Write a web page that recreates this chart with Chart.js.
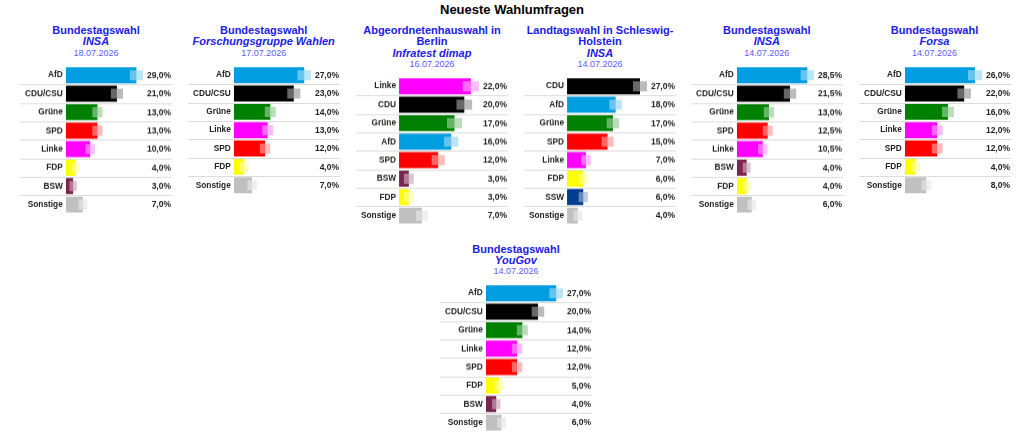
<!DOCTYPE html>
<html>
<head>
<meta charset="utf-8">
<script src="https://cdn.jsdelivr.net/npm/chart.js@4/dist/chart.umd.min.js"></script>
<style>
  body { margin: 0; background: #fff; font-family: "Liberation Sans", Arial, sans-serif; }
  #main { position: absolute; left: 0; top: 2px; width: 1024px; text-align: center; font-size: 13px; font-weight: bold; color: #000; line-height: 16px; }
  .panel { position: absolute; width: 152px; }
  .head { text-align: center; color: #2020e8; }
  .head .t { font-size: 11px; font-weight: bold; line-height: 11.4px; }
  .head .a { font-size: 11px; font-weight: bold; font-style: italic; line-height: 11.4px; }
  .head .d { font-size: 9px; color: #5b5bff; line-height: 10.6px; }
  .box { position: relative; width: 152px; margin-top: 7.3px; }
</style>
</head>
<body>
<div id="main">Neueste Wahlumfragen</div>
<div id="panels"></div>
<script>
// Umfragen (Werte in %), Fehlerbereich je Partei
var p1Title = ['Bundestagswahl'], p1Inst = 'INSA', p1Date = '18.07.2026';
var p1Parties = ['AfD', 'CDU/CSU', 'Grüne', 'SPD', 'Linke', 'FDP', 'BSW', 'Sonstige'];
var p1Values = [29, 21, 13, 13, 10, 4, 3, 7];
var p1Margins = [2.7, 2.5, 2.1, 2.1, 1.9, 1.6, 1.5, 1.8];

var p2Title = ['Bundestagswahl'], p2Inst = 'Forschungsgruppe Wahlen', p2Date = '17.07.2026';
var p2Parties = ['AfD', 'CDU/CSU', 'Grüne', 'Linke', 'SPD', 'FDP', 'Sonstige'];
var p2Values = [27, 23, 14, 13, 12, 4, 7];
var p2Margins = [2.6, 2.5, 2.1, 2.1, 2.0, 1.6, 1.8];

var p3Title = ['Abgeordnetenhauswahl in', 'Berlin'], p3Inst = 'Infratest dimap', p3Date = '16.07.2026';
var p3Parties = ['Linke', 'CDU', 'Grüne', 'AfD', 'SPD', 'BSW', 'FDP', 'Sonstige'];
var p3Values = [22, 20, 17, 16, 12, 3, 3, 7];
var p3Margins = [2.5, 2.4, 2.3, 2.2, 2.0, 1.5, 1.5, 1.8];

var p4Title = ['Landtagswahl in Schleswig-', 'Holstein'], p4Inst = 'INSA', p4Date = '14.07.2026';
var p4Parties = ['CDU', 'AfD', 'Grüne', 'SPD', 'Linke', 'FDP', 'SSW', 'Sonstige'];
var p4Values = [27, 18, 17, 15, 7, 6, 6, 4];
var p4Margins = [2.6, 2.3, 2.3, 2.2, 1.8, 1.7, 1.7, 1.6];

var p5Title = ['Bundestagswahl'], p5Inst = 'INSA', p5Date = '14.07.2026';
var p5Parties = ['AfD', 'CDU/CSU', 'Grüne', 'SPD', 'Linke', 'BSW', 'FDP', 'Sonstige'];
var p5Values = [28.5, 21.5, 13, 12.5, 10.5, 4, 4, 6];
var p5Margins = [2.7, 2.5, 2.1, 2.0, 1.9, 1.6, 1.6, 1.7];

var p6Title = ['Bundestagswahl'], p6Inst = 'Forsa', p6Date = '14.07.2026';
var p6Parties = ['AfD', 'CDU/CSU', 'Grüne', 'Linke', 'SPD', 'FDP', 'Sonstige'];
var p6Values = [26, 22, 16, 12, 12, 4, 8];
var p6Margins = [2.6, 2.5, 2.2, 2.0, 2.0, 1.6, 1.8];

var p7Title = ['Bundestagswahl'], p7Inst = 'YouGov', p7Date = '14.07.2026';
var p7Parties = ['AfD', 'CDU/CSU', 'Grüne', 'Linke', 'SPD', 'FDP', 'BSW', 'Sonstige'];
var p7Values = [27, 20, 14, 12, 12, 5, 4, 6];
var p7Margins = [2.6, 2.4, 2.1, 2.0, 2.0, 1.6, 1.6, 1.7];

var partyColors = {
    'AfD': '#009ee0',
    'CDU/CSU': '#000000',
    'CDU': '#000000',
    'Grüne': '#008000',
    'SPD': '#ff0000',
    'Linke': '#ff00ff',
    'FDP': '#ffff00',
    'BSW': '#7b2450',
    'SSW': '#003c8f',
    'Sonstige': '#c0c0c0'
};

var FONT = '"Liberation Sans", Arial, sans-serif';
var ROW_H = 18.35;

// heller Farbton fuer den Fehlerbereich
function lighten(hex) {
    var r = parseInt(hex.substr(1, 2), 16), g = parseInt(hex.substr(3, 2), 16), b = parseInt(hex.substr(5, 2), 16);
    r = Math.round(r + (255 - r) * 0.6);
    g = Math.round(g + (255 - g) * 0.6);
    b = Math.round(b + (255 - b) * 0.6);
    return 'rgba(' + r + ',' + g + ',' + b + ',0.67)';
}

var rowLines = {
    id: 'rowLines',
    beforeDatasetsDraw: function(chart) {
        var ctx = chart.ctx, y = chart.scales.y;
        var n = chart.data.labels.length;
        ctx.save();
        ctx.strokeStyle = '#dcdcdc';
        ctx.lineWidth = 1;
        for (var i = 1; i < n; i++) {
            var py = Math.round((y.getPixelForValue(i - 1) + y.getPixelForValue(i)) / 2) + 0.5;
            ctx.beginPath();
            ctx.moveTo(0, py);
            ctx.lineTo(chart.width, py);
            ctx.stroke();
        }
        ctx.restore();
    }
};

var valueLabels = {
    id: 'valueLabels',
    afterDatasetsDraw: function(chart) {
        var ctx = chart.ctx, y = chart.scales.y;
        var vals = chart.data.datasets[1].data;
        ctx.save();
        ctx.font = 'bold 8.5px ' + FONT;
        ctx.fillStyle = '#222';
        ctx.textAlign = 'right';
        ctx.textBaseline = 'middle';
        for (var i = 0; i < vals.length; i++) {
            ctx.fillText(vals[i].toFixed(1).replace('.', ',') + '%', chart.width - 1, y.getPixelForValue(i) + 0.5);
        }
        ctx.restore();
    }
};

function makePanel(left, top, title, inst, date, parties, values, margins) {
    var panel = document.createElement('div');
    panel.className = 'panel';
    panel.style.left = left + 'px';
    panel.style.top = top + 'px';
    var head = '<div class="head">';
    title.forEach(function(t) { head += '<div class="t">' + t + '</div>'; });
    head += '<div class="a">' + inst + '</div><div class="d">' + date + '</div></div>';
    panel.innerHTML = head + '<div class="box" style="height:' + (parties.length * ROW_H) + 'px"><canvas></canvas></div>';
    document.getElementById('panels').appendChild(panel);

    var colors = parties.map(function(p) { return partyColors[p]; });
    var xMax = Math.max.apply(null, values.map(function(v, i) { return v + margins[i]; }));

    new Chart(panel.querySelector('canvas').getContext('2d'), {
        type: 'bar',
        data: {
            labels: parties,
            datasets: [{
                data: values.map(function(v, i) { return [v - margins[i], v + margins[i]]; }),
                backgroundColor: colors.map(lighten),
                barPercentage: 0.55,
                categoryPercentage: 1,
                grouped: false
            }, {
                data: values,
                backgroundColor: colors,
                barPercentage: 0.87,
                categoryPercentage: 1,
                grouped: false
            }]
        },
        options: {
            indexAxis: 'y',
            responsive: true,
            maintainAspectRatio: false,
            animation: false,
            layout: { padding: { left: 2, right: 29, top: 0, bottom: 0 } },
            plugins: { legend: { display: false }, tooltip: { enabled: false } },
            scales: {
                x: { display: false, min: 0, max: xMax },
                y: {
                    grid: { display: false, drawTicks: false },
                    border: { display: false },
                    ticks: { color: '#222', padding: 3, font: { family: FONT, size: 8.3, weight: 'bold' } },
                    afterFit: function(scale) {
                        // keine Randabstaende oben/unten fuer die Beschriftung
                        scale.paddingTop = 0;
                        scale.paddingBottom = 0;
                    }
                }
            }
        },
        plugins: [rowLines, valueLabels]
    });
}

makePanel(20, 25, p1Title, p1Inst, p1Date, p1Parties, p1Values, p1Margins);
makePanel(187.7, 25, p2Title, p2Inst, p2Date, p2Parties, p2Values, p2Margins);
makePanel(356, 25, p3Title, p3Inst, p3Date, p3Parties, p3Values, p3Margins);
makePanel(524, 25, p4Title, p4Inst, p4Date, p4Parties, p4Values, p4Margins);
makePanel(690.8, 25, p5Title, p5Inst, p5Date, p5Parties, p5Values, p5Margins);
makePanel(858.5, 25, p6Title, p6Inst, p6Date, p6Parties, p6Values, p6Margins);
makePanel(440, 243.6, p7Title, p7Inst, p7Date, p7Parties, p7Values, p7Margins);
</script>
</body>
</html>
